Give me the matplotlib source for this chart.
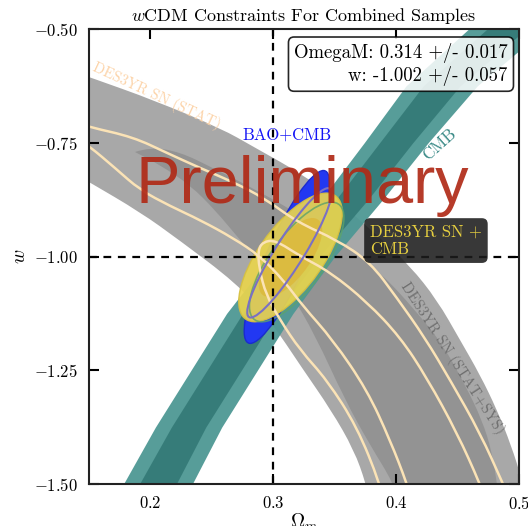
import numpy as np
import matplotlib
matplotlib.use('Agg')
import matplotlib.pyplot as plt
from matplotlib.patches import Ellipse, PathPatch
from matplotlib.path import Path

plt.rcParams['font.family'] = 'serif'
plt.rcParams['font.serif'] = ['cmr10']
plt.rcParams['mathtext.fontset'] = 'cm'
plt.rcParams['axes.formatter.use_mathtext'] = True

# DES3YR SN (STAT+SYS) contour edges (Omega_m, w)
sn_out_up_om = [0.1427, 0.1500, 0.2045, 0.2583, 0.2827, 0.3275, 0.3584, 0.3869, 0.4113, 0.4333, 0.4520, 0.4683, 0.4821, 0.4935, 0.5025, 0.5090]
sn_out_up_w = [-0.5989, -0.6055, -0.6582, -0.7198, -0.7571, -0.8253, -0.8912, -0.9593, -1.0209, -1.0956, -1.1835, -1.2604, -1.3374, -1.4143, -1.4912, -1.5571]
sn_out_lo_om = [0.1427, 0.1500, 0.1915, 0.2233, 0.2697, 0.2973, 0.3234, 0.3470, 0.3657, 0.3755, 0.3804]
sn_out_lo_w = [-0.8253, -0.8363, -0.9022, -0.9637, -1.0582, -1.1396, -1.2451, -1.3374, -1.4253, -1.5000, -1.5571]
sn_in_up_om = [0.1874, 0.1997, 0.2241, 0.2509, 0.2892, 0.3218, 0.3543, 0.3869, 0.4154, 0.4382, 0.4561, 0.4699, 0.4780, 0.4821, 0.4846]
sn_in_up_w = [-0.7703, -0.7593, -0.7703, -0.8055, -0.8582, -0.9088, -0.9703, -1.0341, -1.1176, -1.1945, -1.2824, -1.3593, -1.4297, -1.5000, -1.5571]
sn_in_lo_om = [0.1874, 0.2078, 0.2322, 0.2526, 0.2729, 0.2908, 0.3136, 0.3340, 0.3584, 0.3787, 0.3983, 0.4032]
sn_in_lo_w = [-0.7703, -0.7989, -0.8429, -0.8978, -0.9637, -1.0187, -1.0780, -1.1725, -1.3154, -1.4143, -1.5000, -1.5571]

# DES3YR SN (STAT) contour lines
stat_a_om = [0.1427, 0.1500, 0.1858, 0.2135, 0.2404, 0.2672, 0.2925, 0.3193, 0.3519, 0.3787, 0.4007, 0.4235, 0.4439, 0.4683, 0.4870, 0.4927]
stat_a_w = [-0.7088, -0.7154, -0.7374, -0.7725, -0.8055, -0.8363, -0.8714, -0.9242, -0.9637, -1.0121, -1.0912, -1.1791, -1.2714, -1.3879, -1.5000, -1.5352]
stat_b_om = [0.1427, 0.1500, 0.1712, 0.1915, 0.2159, 0.2404, 0.2672, 0.2892, 0.3095, 0.3234, 0.3486, 0.3763, 0.3950, 0.4089, 0.4129]
stat_b_w = [-0.7440, -0.7571, -0.8055, -0.8538, -0.8890, -0.9198, -0.9593, -0.9989, -1.0560, -1.1066, -1.1835, -1.2934, -1.4033, -1.5000, -1.5352]
stat_c_om = [0.3901, 0.3869, 0.3682, 0.3437, 0.3218, 0.3055, 0.2941, 0.2884, 0.2876, 0.2916, 0.3014, 0.3218, 0.3462, 0.3763, 0.4032, 0.4251, 0.4496, 0.4683, 0.4732]
stat_c_w = [-1.5352, -1.5000, -1.3747, -1.2714, -1.2055, -1.1396, -1.0846, -1.0253, -0.9857, -0.9681, -0.9637, -0.9989, -1.0341, -1.1000, -1.1769, -1.2670, -1.3879, -1.5000, -1.5352]

# CMB band: centre Omega_m along w, with half widths of the two levels
cmb_w = [-1.56, -1.5, -1.375, -1.25, -1.125, -1.0, -0.875, -0.75, -0.625, -0.5, -0.44]
cmb_om = [0.194, 0.206, 0.231, 0.260, 0.289, 0.324, 0.364, 0.400, 0.437, 0.490, 0.515]
cmb_hw2 = [0.028, 0.028, 0.027, 0.027, 0.027, 0.026, 0.025, 0.026, 0.029, 0.031, 0.031]
cmb_hw1 = [0.015, 0.015, 0.014, 0.014, 0.014, 0.0135, 0.013, 0.0135, 0.015, 0.016, 0.016]

# gaussian summaries: mean, sigma, correlation
sncmb_mean, sncmb_sig, sncmb_rho = (0.314, -1.002), (0.017, 0.057), 0.69
bao_mean, bao_sig, bao_rho = (0.311, -1.001), (0.0140, 0.0766), 0.857
lav_mean, lav_sig, lav_rho = (0.313, -0.992), (0.0138, 0.0573), 0.918
grn_mean, grn_sig, grn_rho = (0.319, -1.012), (0.0155, 0.053), 0.74
k1, k2 = 1.52, 2.48


def cov_ellipse(mean, sig, rho, k, **kw):
    cov = np.array([[sig[0]**2, rho*sig[0]*sig[1]], [rho*sig[0]*sig[1], sig[1]**2]])
    vals, vecs = np.linalg.eigh(cov)
    ang = np.degrees(np.arctan2(vecs[1, 1], vecs[0, 1]))
    return Ellipse(mean, 2*k*np.sqrt(vals[1]), 2*k*np.sqrt(vals[0]), angle=ang, **kw)


# read points used as control points of a smooth quadratic bezier path
def smooth_path(xs, ys, closed=False):
    p = np.column_stack([xs, ys])
    if closed:
        p = np.vstack([p, p[:1]])
    verts = [p[0]]
    codes = [Path.MOVETO]
    for i in range(1, len(p) - 1):
        verts += [p[i], (p[i] + p[i+1]) / 2 if i < len(p) - 2 else p[i+1]]
        codes += [Path.CURVE3, Path.CURVE3]
    if closed:
        verts.append(p[0])
        codes.append(Path.CLOSEPOLY)
    return Path(verts, codes)


def band(up_x, up_y, lo_x, lo_y, **kw):
    xs = np.r_[up_x, lo_x[::-1]]
    ys = np.r_[up_y, lo_y[::-1]]
    return PathPatch(smooth_path(xs, ys, closed=True), **kw)


fig = plt.figure(figsize=(5.28, 5.26), dpi=100)
ax = fig.add_axes([0.1686, 0.0798, 0.8144, 0.8651])

ax.add_patch(band(sn_out_up_om, sn_out_up_w, sn_out_lo_om, sn_out_lo_w, fc='#a8a8a8', ec='none', zorder=1))
ax.add_patch(band(sn_in_up_om, sn_in_up_w, sn_in_lo_om, sn_in_lo_w, fc='#939393', ec='none', zorder=1.1))

cw = np.array(cmb_w)
cc = np.array(cmb_om)
ax.fill_betweenx(cw, cc - np.array(cmb_hw2), cc + np.array(cmb_hw2), color='#4e9894', alpha=0.95, lw=0, zorder=2)
ax.fill_betweenx(cw, cc - np.array(cmb_hw1), cc + np.array(cmb_hw1), color='#357b78', alpha=0.95, lw=0, zorder=2.1)

ax.add_patch(cov_ellipse(bao_mean, bao_sig, bao_rho, k2, fc='#2238f2', ec='#1a2bd0', lw=1, zorder=3))
ax.add_patch(cov_ellipse(sncmb_mean, sncmb_sig, sncmb_rho, k2, fc='#e8d44e', ec='#d6c040', lw=1, alpha=0.93, zorder=4))
ax.add_patch(cov_ellipse(sncmb_mean, sncmb_sig, sncmb_rho, k1, fc='#dcba3e', ec='none', alpha=0.9, zorder=4.1))
ax.add_patch(cov_ellipse(grn_mean, grn_sig, grn_rho, k2, fc='none', ec='#5da36a', lw=1.2, alpha=0.8, zorder=4.2))

for xs, ys in [(stat_a_om, stat_a_w), (stat_b_om, stat_b_w), (stat_c_om, stat_c_w)]:
    ax.add_patch(PathPatch(smooth_path(xs, ys), fc='none', ec='#fbe3b6', lw=1.8, zorder=5))

ax.add_patch(cov_ellipse(lav_mean, lav_sig, lav_rho, k2, fc='none', ec='#7a70c4', lw=1.5, zorder=5.5))

ax.axvline(0.3, color='k', lw=1.6, ls=(0, (3.5, 3)), zorder=6)
ax.axhline(-1.0, color='k', lw=1.6, ls=(0, (3.5, 3)), zorder=6)

ax.text(0.3234, -0.882, 'Preliminary', family=['Liberation Sans'], fontsize=48,
        color='#b02a17', alpha=0.92, ha='center', va='baseline', zorder=7)
ax.text(0.2045, -0.647, 'DES3YR SN (STAT)', color='#fcd3a8', fontsize=10.5, rotation=-25,
        ha='center', va='center', zorder=7)
ax.text(0.311, -0.733, 'BAO+CMB', color='#1414f5', fontsize=12, ha='center', va='center', zorder=7)
ax.text(0.4357, -0.7527, 'CMB', color='#3a8a87', fontsize=12, rotation=42, ha='center', va='center', zorder=7)
ax.text(0.4455, -1.2231, 'DES3YR SN (STAT+SYS)', color='#6e6e6e', fontsize=10.5, rotation=-57,
        ha='center', va='center', zorder=7)
ax.text(0.3787, -0.9286, 'DES3YR SN +\nCMB', color='#e6cf40', fontsize=12, ha='left', va='top', zorder=8,
        bbox=dict(boxstyle='round,pad=0.35', fc='#1c1c1c', ec='none', alpha=0.88))
ax.text(0.974, 0.97, 'OmegaM: 0.314 +/- 0.017\nw: -1.002 +/- 0.057', transform=ax.transAxes,
        fontsize=13.5, ha='right', va='top', multialignment='right', zorder=8,
        bbox=dict(boxstyle='round,pad=0.3', fc='white', ec='black', lw=1.2, alpha=0.85))

ax.set_xlim(0.15, 0.5)
ax.set_ylim(-1.5, -0.5)
ax.set_xticks([0.2, 0.3, 0.4, 0.5])
ax.set_yticks([-1.5, -1.25, -1.0, -0.75, -0.5])
ax.tick_params(direction='in', length=7, width=1.5, top=True, right=True, labelsize=12, pad=8)
for s in ax.spines.values():
    s.set_linewidth(1.5)
    s.set_color('#222222')
    s.set_zorder(9)
ax.set_xlabel(r'$\Omega_m$', fontsize=14, labelpad=0)
ax.set_ylabel(r'$w$', fontsize=14, labelpad=4)
ax.set_title(r'$w$CDM Constraints For Combined Samples', fontsize=13, pad=6)

fig.savefig('out.png', dpi=100)
